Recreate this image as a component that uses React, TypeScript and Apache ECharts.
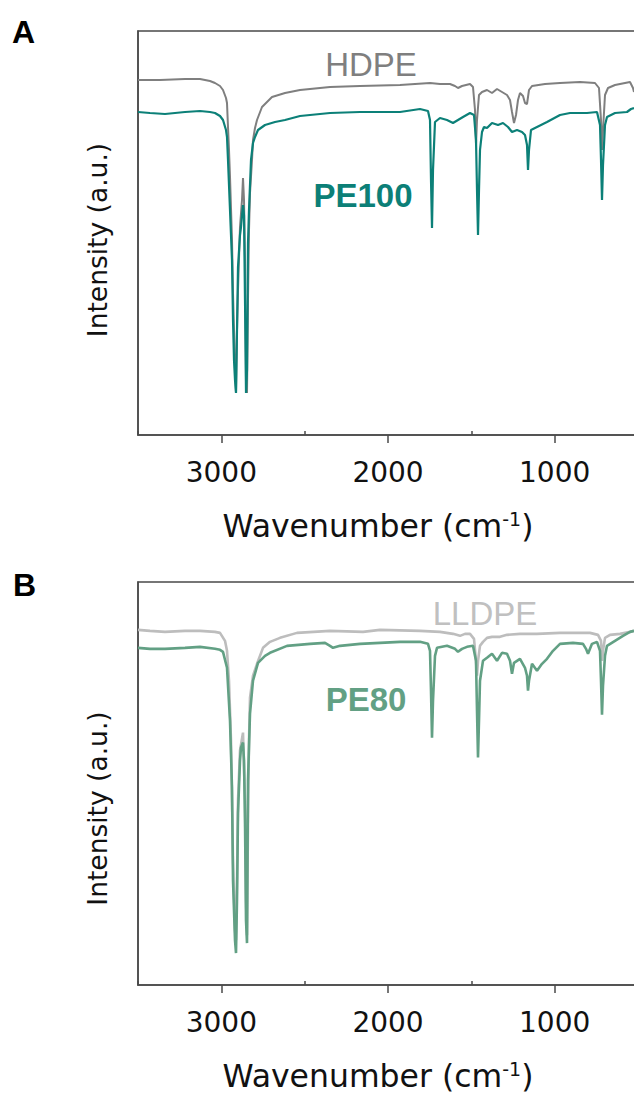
import React, { useEffect, useRef } from "react";
import * as echarts from "echarts";

// ---- Data (wavenumber in cm^-1, intensity in a.u.) ----
const HDPE_WN = [3500,3368,3218,3128,3068,3038,3008,2990,2972,2966,2960,2954,2948,2936,2930,2924,2918,2912,2906,2900,2888,2876,2870,2864,2858,2852,2846,2840,2834,2828,2816,2810,2798,2786,2756,2696,2618,2528,2348,2168,1928,1748,1688,1628,1598,1580,1556,1508,1490,1478,1472,1466,1454,1436,1406,1376,1346,1316,1286,1268,1256,1244,1232,1220,1208,1190,1178,1166,1154,1136,1058,968,848,758,734,722,716,710,698,680,638,578,548,530,524];
const HDPE_I = [88.75,88.75,89,89,88.5,88,87.25,86.25,84.25,83,77,71.25,64.5,48.75,35.5,26.25,16.25,10.5,26.25,36.25,52,58.75,64.25,58.75,43.75,13.75,10.5,33.75,51.25,60.5,68.75,73.75,76.75,78.75,82,84.5,85.5,86.25,87,87.25,87.5,88,87.75,87.75,87.25,86.75,87.25,87.75,87,81.25,72.5,78.75,85,85.75,86.25,85.5,86.5,85.75,85,83.75,80.75,78,80,83.75,85.5,84.75,83,82.75,86.25,87.25,87.75,88,88.25,88,86.75,78.75,71.25,76.25,85,86.75,87.5,88,88.25,86.75,85.75];

const PE100_WN = [3500,3428,3338,3218,3128,3068,3038,3008,2990,2972,2966,2960,2948,2936,2930,2924,2918,2912,2906,2900,2888,2882,2870,2864,2858,2852,2846,2840,2834,2822,2810,2798,2780,2738,2678,2618,2528,2348,2168,1928,1808,1760,1748,1742,1736,1730,1718,1688,1646,1610,1580,1550,1508,1484,1472,1466,1460,1454,1448,1436,1424,1406,1376,1340,1310,1280,1256,1226,1196,1178,1166,1160,1154,1142,1106,1046,968,908,806,746,728,722,716,710,698,686,638,566,542,524];
const PE100_I = [80.75,80.5,80.25,80.75,81,80.75,80.5,79.75,78.75,76.25,74.5,68.75,56.25,43.75,28.75,18.75,13.75,10.5,26.25,42,50,52,57.5,55,33.75,10.5,16.25,48,56.25,68.75,73,74.5,76.25,77.5,78.25,78.75,79.75,80.5,80.75,80.75,81.5,81,78.75,63.75,51.75,66.25,78.25,79.25,78.75,78,78.75,79.5,80.5,80,73.75,61.25,50,61.25,71.25,75.75,77,76.75,78,77.5,78,77,75.75,76.25,75.75,75,72.5,66.25,71.25,76.25,77,78.25,80,80.5,80.5,80.75,77.5,68.75,58.75,67.5,77.5,79.5,80.5,80.75,81.5,81.75];

const LLDPE_WN = [3500,3428,3338,3218,3128,3038,3008,2978,2966,2954,2942,2930,2918,2912,2906,2900,2888,2870,2858,2852,2846,2840,2834,2828,2810,2786,2750,2708,2648,2546,2348,2150,2048,1808,1688,1610,1568,1538,1508,1484,1472,1466,1460,1448,1430,1406,1376,1328,1286,1208,1106,968,788,740,722,716,710,698,668,608,548,524];
const LLDPE_I = [89,88.75,88.5,88.75,88.75,88.5,88.25,86.25,83.75,76.25,61.25,31.25,13.75,11.25,26.25,46.25,58.75,63.25,46.25,21.25,12.5,41.25,61.25,72,77.5,80.5,84.5,86,87,88.25,88.75,88.5,89,88.75,88.5,88,87.5,88,88,86.75,81.25,77.5,81.25,85,86,87,87.25,87.25,87.75,88,88,88.25,88.25,87.75,86.25,81.25,83.75,87,87.75,88,88.5,88.75];

const PE80_WN = [3500,3428,3338,3218,3128,3038,3008,2990,2966,2948,2936,2930,2918,2912,2906,2900,2888,2882,2870,2864,2858,2852,2846,2840,2828,2810,2780,2738,2708,2606,2468,2378,2348,2330,2288,2168,1928,1808,1760,1748,1742,1736,1730,1718,1706,1646,1598,1580,1556,1526,1490,1472,1466,1460,1454,1448,1430,1406,1376,1346,1316,1286,1268,1256,1244,1208,1178,1166,1160,1154,1136,1106,1076,1046,1010,968,890,830,812,800,788,776,746,728,722,716,710,698,686,638,590,548,524];
const PE80_I = [84.5,84.25,84.25,84.5,84.75,84.25,84,83.5,79.5,66.25,49.5,26.25,11.25,8,21.25,43,56.25,59.5,60.75,56.25,41.25,16.25,10.5,51.25,68,76.25,80.75,82.5,83.25,85,85.5,85.75,85,84.5,85,85.5,86,86,85.5,83.75,73.75,62,71.25,82.5,84.5,85,84.25,83.5,84.25,84.75,85,81.25,68.75,57,66.25,76.25,81.25,82,83,81.25,83.25,83,81.25,78,80.75,81.75,79.5,77.5,73.75,76.25,80.5,78.75,80.5,81.75,83.75,85.5,85.75,85.5,84.25,83,84.25,85.5,86,83.75,76.25,67.75,75,82.5,85,86.25,87.5,88.5,88.75];

const MAJOR_TICKS = [3000, 2000, 1000];
const MINOR_TICKS = [3500, 2500, 1500];
const X_MIN = 500;
const X_MAX = 3500;

const FONT = "'Liberation Sans', Arial, Helvetica, sans-serif";
const AXIS_FONT = "'DejaVu Sans', 'Liberation Sans', Arial, sans-serif";

function pairs(wn: number[], v: number[]) {
  return wn.map((w, i) => [w, v[i]]);
}

export default function App() {
  const ref = useRef<HTMLDivElement>(null);
  useEffect(() => {
    if (!ref.current) return;
    const chart = echarts.init(ref.current, null, { renderer: "svg" });
    const axisColor = "#4a4a4a";
    const grids = [
      { left: 138, top: 31, width: 500, height: 404 },
      { left: 138, top: 582, width: 500, height: 403 },
    ];
    const yTitlePadding = [
      [0, 14, 0, 0],
      [0, 50, 0, 0],
    ];
    const xAxes: any[] = [];
    const yAxes: any[] = [];
    grids.forEach((_, gi) => {
      xAxes.push({
        type: "value",
        gridIndex: gi,
        inverse: true,
        min: X_MIN,
        max: X_MAX,
        axisLine: { show: true, onZero: false, lineStyle: { color: axisColor, width: 1.5 } },
        axisTick: { show: true, customValues: MAJOR_TICKS, length: 8, lineStyle: { color: axisColor, width: 1.5 } },
        axisLabel: {
          show: true,
          customValues: MAJOR_TICKS,
          formatter: (v: number) => String(v),
          fontSize: 28,
          color: "#111",
          fontFamily: AXIS_FONT,
          margin: 23,
        },
        splitLine: { show: false },
        name: "Wavenumber (cm{sup|-1})",
        nameLocation: "middle",
        nameGap: 74,
        nameTextStyle: {
          fontSize: 31.5,
          color: "#111",
          fontFamily: AXIS_FONT,
          padding: [0, 20, 0, 0],
          rich: {
            sup: { fontSize: 19, fontFamily: AXIS_FONT, color: "#111", verticalAlign: "top", padding: [0, 0, 14, 0] },
          },
        },
      });
      xAxes.push({
        type: "value",
        gridIndex: gi,
        inverse: true,
        min: X_MIN,
        max: X_MAX,
        axisLine: { show: false },
        axisTick: { show: true, customValues: MINOR_TICKS, length: 4, lineStyle: { color: axisColor, width: 1.5 } },
        axisLabel: { show: false },
        splitLine: { show: false },
      });
      yAxes.push({
        type: "value",
        gridIndex: gi,
        min: 0,
        max: 101,
        axisLine: { show: true, lineStyle: { color: axisColor, width: 1.5 } },
        axisTick: { show: false },
        axisLabel: { show: false },
        splitLine: { show: false },
        name: "Intensity (a.u.)",
        nameLocation: "middle",
        nameRotate: 90,
        nameGap: 27,
        nameTextStyle: { fontSize: 26.5, color: "#111", fontFamily: AXIS_FONT, padding: yTitlePadding[gi] },
      });
    });

    const mk = (name: string, data: number[][], color: string, width: number, gi: number) => ({
      name,
      type: "line",
      xAxisIndex: gi * 2,
      yAxisIndex: gi,
      data,
      showSymbol: false,
      symbol: "none",
      lineStyle: { color, width },
      z: 2,
    });

    chart.setOption({
      animation: false,
      backgroundColor: "#ffffff",
      grid: grids.map((g) => ({ ...g, show: true, borderColor: axisColor, borderWidth: 1.5, backgroundColor: "transparent" })),
      xAxis: xAxes,
      yAxis: yAxes,
      series: [
        mk("HDPE", pairs(HDPE_WN, HDPE_I), "#7f7f7f", 2, 0),
        mk("PE100", pairs(PE100_WN, PE100_I), "#0c8078", 2.2, 0),
        mk("LLDPE", pairs(LLDPE_WN, LLDPE_I), "#bdbdbd", 2.6, 1),
        mk("PE80", pairs(PE80_WN, PE80_I), "#62a084", 2.6, 1),
      ],
      graphic: [
        { type: "text", left: 12, top: 16, style: { text: "A", font: `bold 32px ${FONT}`, fill: "#000" } },
        { type: "text", left: 13, top: 569, style: { text: "B", font: `bold 32px ${FONT}`, fill: "#000" } },
        { type: "text", x: 371, y: 64, style: { text: "HDPE", font: `33px ${FONT}`, fill: "#7f7f7f", align: "center", verticalAlign: "middle" } },
        { type: "text", x: 363, y: 195, style: { text: "PE100", font: `bold 33px ${FONT}`, fill: "#0c7f77", align: "center", verticalAlign: "middle" } },
        { type: "text", x: 485, y: 613, style: { text: "LLDPE", font: `33px ${FONT}`, fill: "#c0c0c0", align: "center", verticalAlign: "middle" } },
        { type: "text", x: 366, y: 699, style: { text: "PE80", font: `bold 33px ${FONT}`, fill: "#62a084", align: "center", verticalAlign: "middle" } },
      ],
    });
    return () => chart.dispose();
  }, []);

  return (
    <div style={{ position: "absolute", left: 0, top: 0, width: 634, height: 1095, overflow: "hidden", background: "#fff" }}>
      <div ref={ref} style={{ width: 639, height: 1095 }} />
    </div>
  );
}
